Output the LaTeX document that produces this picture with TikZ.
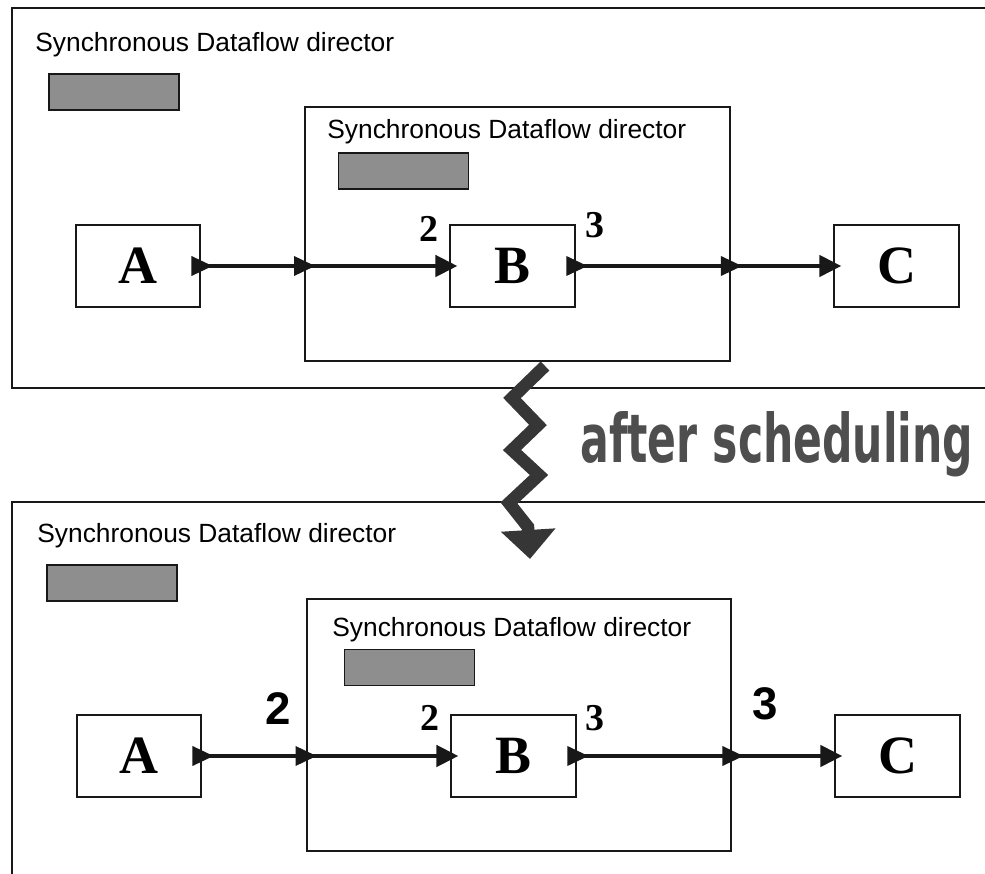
\documentclass[tikz,border=0pt]{standalone}
\usepackage{fontspec}
\setmainfont{Liberation Serif}
\setsansfont{Liberation Sans}
\newfontfamily\heavyfont{DejaVu Sans}
\usepackage{tikz}
\usetikzlibrary{arrows.meta,positioning,calc}
\definecolor{ink}{HTML}{181818}
\definecolor{shade}{HTML}{8E8E8E}
\definecolor{bolt}{HTML}{363636}
\definecolor{stamp}{HTML}{4E4E4E}
\newcommand{\sdfport}[1]{\fill[ink] ($(#1)+(-10,-10)$) -- ($(#1)+(11,0)$) -- ($(#1)+(-10,10)$) -- cycle;}

\begin{document}
\begin{tikzpicture}[x=0.02cm,y=-0.02cm,>={Triangle[length=0.44cm,width=0.42cm]},
  panel/.style={draw=ink,line width=0.05cm,minimum width=19.76cm},
  director/.style={draw=ink,line width=0.04cm,minimum width=8.5cm,minimum height=5.07cm},
  actor/.style={draw=ink,line width=0.04cm,minimum width=2.5cm,minimum height=1.66cm,font=\fontsize{30.7}{32}\selectfont\bfseries},
  label/.style={anchor=base west,inner sep=0pt,font=\sffamily\fontsize{15}{17}\selectfont},
  token/.style={draw=ink,fill=shade,line width=0.035cm,minimum width=2.6cm,minimum height=0.72cm},
  rate/.style={inner sep=0pt,font=\fontsize{21.6}{22}\selectfont\bfseries},
  srate/.style={inner sep=0pt,font=\sffamily\fontsize{26}{27}\selectfont\bfseries},
  wire/.style={draw=ink,line width=0.09cm}]
\useasboundingbox (0,0) rectangle (985,874);
\clip (0,0) rectangle (985,874);
\fill[white] (0,0) rectangle (985,874);

% before scheduling
\node[panel,minimum height=7.6cm] (top) at (506,198) {};
\node[label] (t1) at (35,52) {Synchronous Dataflow director};
\node[token] (g1) at (114,92) {};
\node[director] (d1) at (517.5,234) {};
\node[label] (t2) at (327,139) {Synchronous Dataflow director};
\node[token] (g2) at (403.5,171) {};
\node[actor] (a1) at (138,266) {A};
\node[actor,right=4.96cm of a1] (b1) {B};
\node[actor,right=5.14cm of b1] (c1) {C};
\coordinate (p1) at (a1.east -| d1.west);
\coordinate (p2) at (b1.east -| d1.east);
\draw[wire] (a1.east) -- (p1);
\draw[wire,->,shorten >=-0.16cm] (p1) -- (b1.west);
\draw[wire] (b1.east) -- (p2);
\draw[wire,->,shorten >=-0.16cm] (p2) -- (c1.west);
\sdfport{a1.east} \sdfport{p1} \sdfport{b1.east} \sdfport{p2}
\node[rate] (r1) at ($(b1.north west)+(-20,5)$) {2};
\node[rate] (r2) at ($(b1.north east)+(19,2)$) {3};

% after scheduling
\node[panel,minimum height=7.96cm] (bot) at (506,701) {};
\node[label] (t3) at (37,543) {Synchronous Dataflow director};
\node[token] (g3) at (112,583) {};
\node[director,minimum height=5.04cm] (d2) at (519,725) {};
\node[label] (t4) at (332,637) {Synchronous Dataflow director};
\node[token] (g4) at (409.5,667.5) {};
\node[actor] (a2) at (139,756) {A};
\node[actor,right=4.96cm of a2] (b2) {B};
\node[actor,right=5.14cm of b2] (c2) {C};
\coordinate (p3) at (a2.east -| d2.west);
\coordinate (p4) at (b2.east -| d2.east);
\draw[wire] (a2.east) -- (p3);
\draw[wire,->,shorten >=-0.16cm] (p3) -- (b2.west);
\draw[wire] (b2.east) -- (p4);
\draw[wire,->,shorten >=-0.16cm] (p4) -- (c2.west);
\sdfport{a2.east} \sdfport{p3} \sdfport{b2.east} \sdfport{p4}
\node[srate] (s1) at ($(p3)+(-27,-47)$) {2};
\node[rate] (r3) at ($(b2.north west)+(-20,4)$) {2};
\node[rate] (r4) at ($(b2.north east)+(18,5)$) {3};
\node[srate] (s2) at ($(p4)+(33,-52)$) {3};

\draw[bolt,line width=0.25cm,line join=miter,-{Triangle[length=0.58cm,width=1.06cm]}]
  (545,366) -- (512,398) -- (538,425) -- (512,450) -- (539,475) -- (509,503) -- (528,527) -- (530,559);
\node[anchor=base west,inner sep=0pt,text=stamp] (sched) at (580,463)
  {\resizebox{7.86cm}{1.02cm}{\heavyfont\bfseries after scheduling}};
\end{tikzpicture}
\end{document}
